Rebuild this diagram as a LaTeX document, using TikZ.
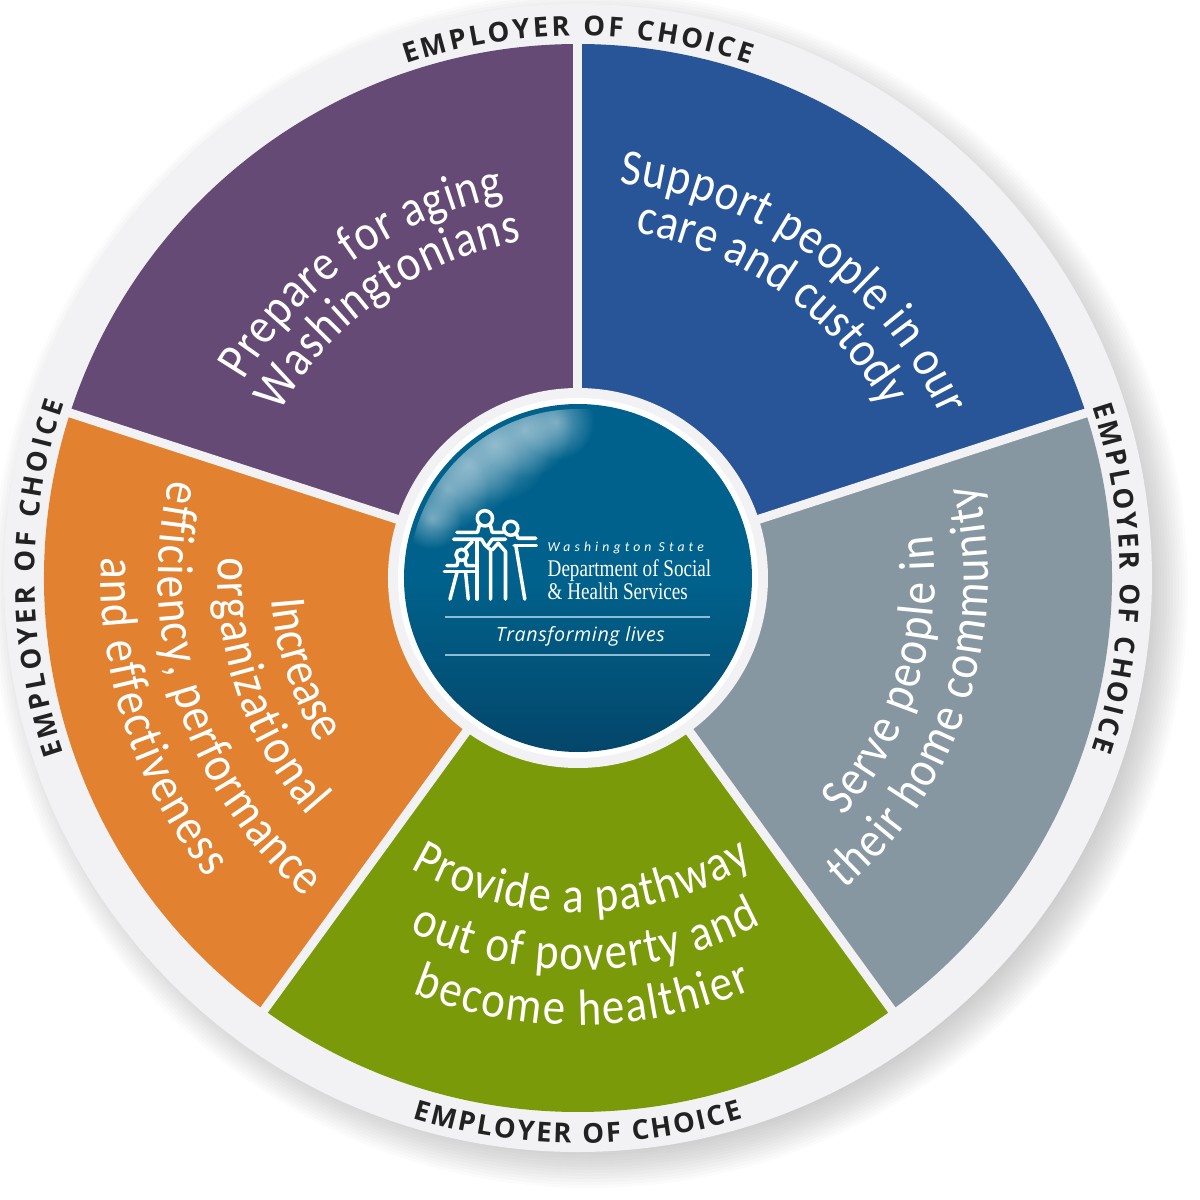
\documentclass[tikz,border=0pt]{standalone}
\usepackage{fontspec}
\usetikzlibrary{decorations.text,fadings}
\newfontfamily\wheelfamily[FakeStretch=0.88]{Carlito}
\newfontfamily\hubfamily{Carlito}
\newfontfamily\rimfamily{Open Sans}
\newfontfamily\dshsfamily[FakeStretch=0.8]{Liberation Serif}
\newcommand\wheelfont{\wheelfamily\fontsize{14.5}{16}\selectfont\color{white}}
\newcommand\rimfont{\rimfamily\bfseries\fontsize{7.8}{9}\selectfont\color{rimtext}}
\definecolor{rimgrey}{HTML}{F2F2F5}
\definecolor{rimtext}{HTML}{222222}
\definecolor{wheelpurple}{HTML}{644A74}
\definecolor{wheelblue}{HTML}{285498}
\definecolor{wheelgrey}{HTML}{8797A1}
\definecolor{wheelgreen}{HTML}{7A9A09}
\definecolor{wheelorange}{HTML}{E2812F}
\definecolor{hubtop}{HTML}{00628C}
\definecolor{hubbottom}{HTML}{04466A}
\definecolor{hubrule}{HTML}{8FBBD3}
\tikzfading[name=glowfade,inner color=transparent!58,outer color=transparent!100]
\newcommand\wheelline[4]{\path[decorate,decoration={text along path,text align={fit to path},text={|\wheelfont|#4}}] (#2:#1) arc[start angle=#2,end angle=#3,radius=#1];}
\newcommand\rimline[3]{\path[decorate,decoration={text along path,text align={fit to path},text={|\rimfont|EMPLOYER OF CHOICE}}] (#2:#1) arc[start angle=#2,end angle=#3,radius=#1];}
\tikzset{
    logoline/.style={white,line width=1pt,line cap=round,line join=round},
    hubtext/.style={white,inner sep=0pt,anchor=base west}
}
\begin{document}
\begin{tikzpicture}
    \useasboundingbox (-5.78,5.78) rectangle (6.22,-6.22);
    % soft shadow
    \foreach \r in {5.56,5.59,...,5.98} {
        \fill[black,opacity=0.016] (0.12,-0.12) circle (\r);
    }
    \fill[rimgrey] (0,0) circle (5.74);
    % sectors
    \foreach \a/\c in {90/wheelpurple,18/wheelblue,-54/wheelgrey,-126/wheelgreen,162/wheelorange} {
        \fill[\c] (0,0) -- (\a:5.34) arc[start angle=\a,delta angle=72,radius=5.34] -- cycle;
    }
    \foreach \a in {90,18,-54,-126,162} {
        \draw[rimgrey,line width=0.09cm] (0,0) -- (\a:5.40);
    }
    % rim labels
    \rimline{5.42}{108.5}{71.5}
    \rimline{5.42}{18.5}{-18.5}
    \rimline{5.65}{253}{287}
    \rimline{5.43}{198.8}{161.2}
    % sector labels
    \wheelline{3.88}{149.5}{101}{Prepare for aging}
    \wheelline{3.41}{151}{99.5}{Washingtonians}
    \wheelline{3.97}{84}{24}{Support people in our}
    \wheelline{3.50}{80.5}{29}{care and custody}
    \wheelline{3.57}{-42}{7}{Serve people in}
    \wheelline{4.10}{-49.5}{13.2}{their home community}
    \wheelline{3.35}{240}{301.5}{Provide a pathway}
    \wheelline{3.92}{244.5}{298}{out of poverty and}
    \wheelline{4.47}{248.3}{293}{become healthier}
    \wheelline{3.07}{184}{212.5}{Increase}
    \wheelline{3.60}{176.7}{221.5}{organizational}
    \wheelline{4.20}{166.5}{229.5}{efficiency, performance}
    \wheelline{4.77}{177.5}{219}{and effectiveness}
    % hub
    \fill[rimgrey] (0,0) circle (1.90);
    \fill[white] (0,0) circle (1.80);
    \shade[top color=hubtop,bottom color=hubbottom,middle color=hubtop] (0,0) circle (1.74);
    \begin{scope}
        \clip (0,0) circle (1.69);
        \foreach \a/\s in {98/0.38,110/0.48,122/0.58,134/0.52,146/0.42,158/0.3} {
            \fill[white,path fading=glowfade] (\a:1.58) circle (\s);
        }
    \end{scope}
    % logo
    \begin{scope}[shift={(-1.43,0.78)},x=0.00333cm,y=-0.00333cm]
        \draw[logoline] (150,55) circle (23);
        \draw[logoline] (228,85) circle (21);
        \draw[logoline] (80,165) circle (17);
        \draw[logoline] (66,97) -- (128,97) -- (134,74) (166,74) -- (172,97) -- (205,97);
        \draw[logoline] (56,118) -- (140,118) -- (150,135) (160,135) -- (172,118) -- (212,118);
        \draw[logoline] (244,100) -- (250,115) -- (303,115);
        \draw[logoline] (238,137) -- (305,137);
        \draw[logoline] (36,197) -- (66,197) -- (70,181) (90,181) -- (94,197) -- (118,197);
        \draw[logoline] (28,215) -- (118,215);
        \draw[logoline] (45,298) -- (66,218);
        \draw[logoline] (100,298) -- (92,218);
        \draw[logoline] (127,298) -- (127,125);
        \draw[logoline] (90,148) -- (112,125);
        \draw[logoline] (167,298) -- (167,150) -- (150,135);
        \draw[logoline] (212,298) -- (212,155) -- (190,130) -- (172,150);
        \draw[logoline] (270,298) -- (243,137);
    \end{scope}
    \node[hubtext] (wastate) at (-0.31,0.27) {\hubfamily\itshape\addfontfeature{LetterSpace=30}\fontsize{3.9}{5}\selectfont Washington State};
    \node[hubtext] (deptname) at (-0.31,0.02) {\dshsfamily\fontsize{6.8}{8}\selectfont Department of Social};
    \node[hubtext] (deptservices) at (-0.31,-0.21) {\dshsfamily\fontsize{6.8}{8}\selectfont \& Health Services};
    \node[hubtext,anchor=base] (motto) at (0.025,-0.63) {\rimfamily\itshape\addfontfeature{LetterSpace=3}\fontsize{5.6}{7}\selectfont Transforming lives};
    \draw[hubrule,line width=0.3pt] (-1.33,-0.39) -- (1.32,-0.39);
    \draw[hubrule,line width=0.3pt] (-1.33,-0.77) -- (1.32,-0.77);
\end{tikzpicture}
\end{document}
